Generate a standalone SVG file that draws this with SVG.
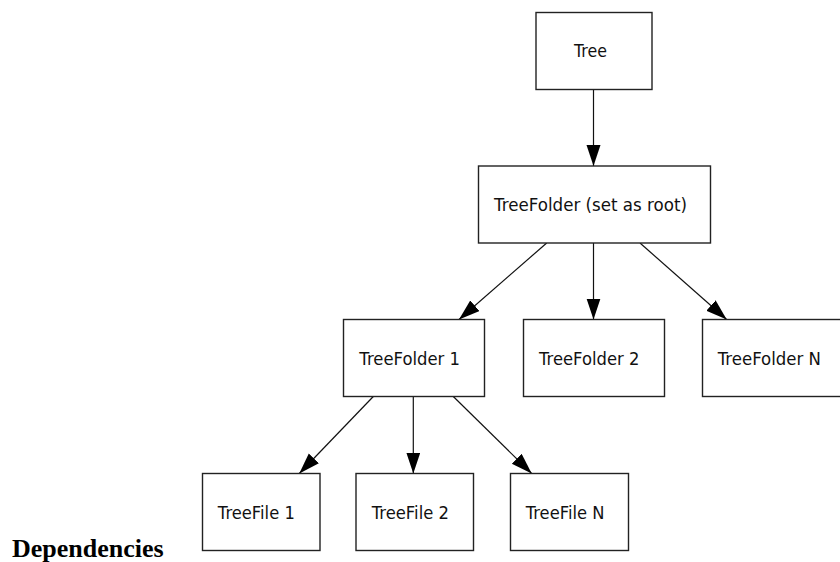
<svg xmlns="http://www.w3.org/2000/svg" width="840" height="562" viewBox="0 0 840 562">
<style>
.box{fill:#fff;stroke:#222;stroke-width:1.4}
.lbl{font-family:"DejaVu Sans",sans-serif;font-size:17px;fill:#111}
.edge{stroke:#111;stroke-width:1.2;fill:none}
.title{font-family:"Liberation Serif","Times New Roman",serif;font-weight:bold;font-size:26px;fill:#000}
</style>
<defs>
<marker id="ah" markerUnits="userSpaceOnUse" markerWidth="22" markerHeight="16" refX="21" refY="7" orient="auto">
<path d="M0,0 L21,7 L0,14 z" fill="#000"/>
</marker>
</defs>
<rect width="840" height="562" fill="#fff"/>
<g id="edges">
<line class="edge" x1="593.5" y1="89.5" x2="593.5" y2="166" marker-end="url(#ah)"/>
<line class="edge" x1="546.7" y1="243" x2="459" y2="319.5" marker-end="url(#ah)"/>
<line class="edge" x1="593.5" y1="243" x2="593.5" y2="319.5" marker-end="url(#ah)"/>
<line class="edge" x1="640" y1="243" x2="726.7" y2="319.5" marker-end="url(#ah)"/>
<line class="edge" x1="373.3" y1="396.5" x2="299.3" y2="473.5" marker-end="url(#ah)"/>
<line class="edge" x1="413.3" y1="396.5" x2="413.3" y2="473.5" marker-end="url(#ah)"/>
<line class="edge" x1="453.3" y1="396.5" x2="531.7" y2="473.5" marker-end="url(#ah)"/>
</g>
<g id="tree"><rect class="box" x="536" y="12.5" width="116" height="77"/><text class="lbl" x="574" y="57" textLength="33" lengthAdjust="spacingAndGlyphs">Tree</text></g>
<g id="root"><rect class="box" x="478.5" y="166" width="232" height="77"/><text class="lbl" x="494" y="210.5" textLength="193" lengthAdjust="spacingAndGlyphs">TreeFolder (set as root)</text></g>
<g id="tf1"><rect class="box" x="343.5" y="319.5" width="141" height="77"/><text class="lbl" x="359.3" y="364.5" textLength="100.7" lengthAdjust="spacingAndGlyphs">TreeFolder 1</text></g>
<g id="tf2"><rect class="box" x="523.5" y="319.5" width="141" height="77"/><text class="lbl" x="539" y="364.5" textLength="100.3" lengthAdjust="spacingAndGlyphs">TreeFolder 2</text></g>
<g id="tfn"><rect class="box" x="702.5" y="319.5" width="141" height="77"/><text class="lbl" x="717.7" y="364.5" textLength="103.3" lengthAdjust="spacingAndGlyphs">TreeFolder N</text></g>
<g id="file1"><rect class="box" x="202.5" y="473.5" width="117.5" height="77"/><text class="lbl" x="217.8" y="518.5" textLength="77" lengthAdjust="spacingAndGlyphs">TreeFile 1</text></g>
<g id="file2"><rect class="box" x="356" y="473.5" width="117.5" height="77"/><text class="lbl" x="371.7" y="518.5" textLength="77.3" lengthAdjust="spacingAndGlyphs">TreeFile 2</text></g>
<g id="filen"><rect class="box" x="510.5" y="473.5" width="118" height="77"/><text class="lbl" x="525.7" y="518.5" textLength="78.7" lengthAdjust="spacingAndGlyphs">TreeFile N</text></g>
<text class="title" x="12" y="557">Dependencies</text>
</svg>
